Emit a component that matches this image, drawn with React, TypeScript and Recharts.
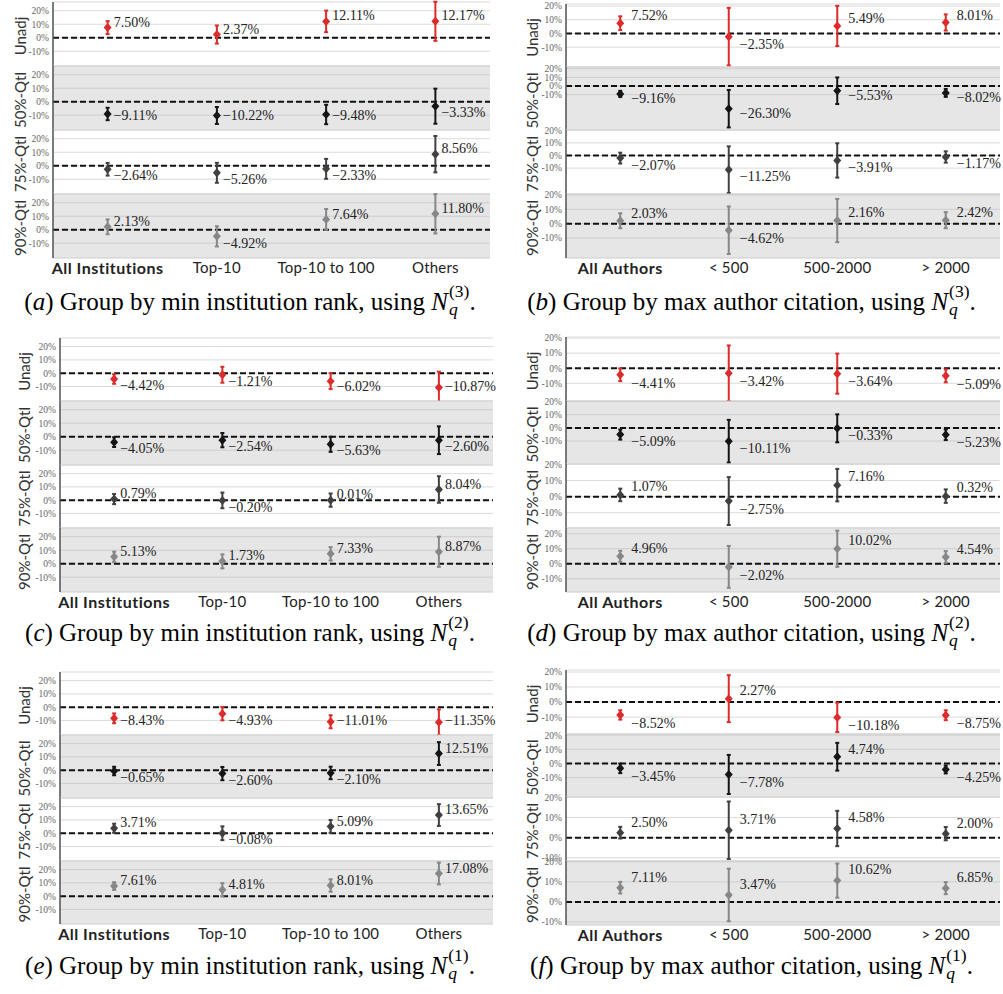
import React from 'react';
import { ComposedChart, Scatter, ErrorBar, XAxis, YAxis, CartesianGrid, ReferenceLine } from 'recharts';

const rowNames = ['Unadj', '50%-Qtl', '75%-Qtl', '90%-Qtl'];
const rowColors = ['#dc2b2b', '#151515', '#404040', '#878787'];
const instCats = ['All Institutions', 'Top-10', 'Top-10 to 100', 'Others'];
const authCats = ['All Authors', '< 500', '500-2000', '> 2000'];
const yTicks = [-10, 0, 10, 20];
const xTicks = [0, 1, 2, 3];

// values [row][category] in %
const aVals = [[7.50, 2.37, 12.11, 12.17], [-9.11, -10.22, -9.48, -3.33], [-2.64, -5.26, -2.33, 8.56], [2.13, -4.92, 7.64, 11.80]];
const aErr = [[4.8, 6.7, 8.0, 14.5], [4.6, 6.3, 7.2, 13.0], [4.7, 7.4, 7.4, 13.5], [5.5, 7.5, 7.7, 14.6]];
const bVals = [[7.52, -2.35, 5.49, 8.01], [-9.16, -26.30, -5.53, -8.02], [-2.07, -11.25, -3.91, -1.17], [2.03, -4.62, 2.16, 2.42]];
const bErr = [[5.0, 21.0, 14.7, 5.9], [3.5, 21.7, 15.4, 4.6], [4.3, 18.5, 13.6, 4.5], [5.2, 16.6, 15.1, 5.6]];
const cVals = [[-4.42, -1.21, -6.02, -10.87], [-4.05, -2.54, -5.63, -2.60], [0.79, -0.20, 0.01, 8.04], [5.13, 1.73, 7.33, 8.87]];
const cErr = [[3.6, 6.0, 6.0, 12.0], [3.6, 5.3, 5.6, 10.3], [3.8, 5.9, 5.0, 10.0], [3.8, 5.2, 5.0, 11.2]];
const dVals = [[-4.41, -3.42, -3.64, -5.09], [-5.09, -10.11, -0.33, -5.23], [1.07, -2.75, 7.16, 0.32], [4.96, -2.02, 10.02, 4.54]];
const dErr = [[4.2, 18.5, 13.3, 4.3], [3.8, 16.2, 10.6, 4.0], [3.9, 14.9, 10.1, 4.2], [3.7, 13.9, 12.0, 3.9]];
const eVals = [[-8.43, -4.93, -11.01, -11.35], [-0.65, -2.60, -2.10, 12.51], [3.71, -0.08, 5.09, 13.65], [7.61, 4.81, 8.01, 17.08]];
const eErr = [[3.7, 5.0, 4.9, 9.7], [3.2, 5.0, 4.7, 8.6], [3.4, 5.2, 4.8, 8.2], [2.9, 5.0, 4.7, 8.2]];
const fVals = [[-8.52, 2.27, -10.18, -8.75], [-3.45, -7.78, 4.74, -4.25], [2.50, 3.71, 4.58, 2.00], [7.11, 3.47, 10.62, 6.85]];
const fErr = [[3.1, 15.6, 9.8, 3.3], [3.4, 13.8, 9.8, 2.8], [2.9, 14.3, 8.8, 3.3], [2.9, 13.1, 8.5, 3.0]];

// y domains per row
const instDoms = [[-21, 26.5], [-21, 26.5], [-21, 26.5], [-21, 26.5]];
const bDoms = [[-24.5, 21.5], [-51, 22], [-30.5, 20.2], [-24, 20.7]];
const dDoms = [[-21.8, 20.7], [-27.4, 20.4], [-19.5, 20.3], [-18.7, 23.8]];
const fDoms = [[-21.2, 21.3], [-23.7, 20.8], [-11.6, 20.25], [-11.5, 20.4]];

const panels = [
  { letter: 'a', left: 0, width: 500, yW: 53, right: 10, rows: [2, 66, 130, 194, 258], cats: instCats, vals: aVals, errs: aErr, doms: instDoms, kind: 'inst', desc: 'Group by min institution rank, using ', sup: '(3)', capY: 297, lx: 19.5 },
  { letter: 'b', left: 500, width: 503, yW: 66, right: 3, rows: [4, 67, 130, 194, 258], cats: authCats, vals: bVals, errs: bErr, doms: bDoms, kind: 'auth', desc: 'Group by max author citation, using ', sup: '(3)', capY: 297, lx: 31.5 },
  { letter: 'c', left: 0, width: 500, yW: 60, right: 7, rows: [338, 401, 465, 528, 592], cats: instCats, vals: cVals, errs: cErr, doms: instDoms, kind: 'inst', desc: 'Group by min institution rank, using ', sup: '(2)', capY: 628, lx: 24 },
  { letter: 'd', left: 500, width: 503, yW: 66, right: 3, rows: [337, 401, 464, 528, 592], cats: authCats, vals: dVals, errs: dErr, doms: dDoms, kind: 'auth', desc: 'Group by max author citation, using ', sup: '(2)', capY: 628, lx: 31.5 },
  { letter: 'e', left: 0, width: 500, yW: 60, right: 7, rows: [672, 735, 798, 861, 924], cats: instCats, vals: eVals, errs: eErr, doms: instDoms, kind: 'inst', desc: 'Group by min institution rank, using ', sup: '(1)', capY: 961, lx: 24 },
  { letter: 'f', left: 500, width: 503, yW: 66, right: 3, rows: [670, 734, 797, 861, 925], cats: authCats, vals: fVals, errs: fErr, doms: fDoms, kind: 'auth', desc: 'Group by max author citation, using ', sup: '(1)', capY: 961, lx: 31.5 },
];

const fmt = (v: number) => (v < 0 ? '\u2212' : '') + Math.abs(v).toFixed(2) + '%';
const labelPos = (kind: string, v: number) =>
  kind === 'inst' ? (v > 0 ? v + 4 : Math.max(v - 5, -10)) : (v > 0 ? v + 5.3 : v - 5.5);

const SERIF = '"Liberation Serif", "Times New Roman", serif';
const SANS = 'Lato, "Open Sans", sans-serif';
const X_H = 24;
const PAD = 7;

function Diamond(props: any) {
  const { cx, cy, fill } = props;
  if (cx == null || cy == null) return null;
  return <polygon points={`${cx - 4},${cy} ${cx},${cy - 4.5} ${cx + 4},${cy} ${cx},${cy + 4.5}`} fill={fill} />;
}

function Row({ p, r }: { p: any; r: number }) {
  const top = p.rows[r];
  const h = p.rows[r + 1] - top;
  const last = r === 3;
  const color = rowColors[r];
  const dx = p.kind === 'inst' ? 6 : 11;
  const data = p.cats.map((c: string, i: number) => ({
    x: i,
    cat: c,
    v: p.vals[r][i],
    err: p.errs[r][i],
    ly: labelPos(p.kind, p.vals[r][i]),
    label: fmt(p.vals[r][i]),
  }));
  const gray = r % 2 === 1;
  const chartH = h + PAD + (last ? X_H : PAD);
  const LabelShape = (sp: any) => {
    if (sp.cx == null || sp.cy == null) return null;
    return (
      <text x={sp.cx + dx} y={sp.cy} dominantBaseline="central" fontSize={14} fontFamily={SERIF} fill="#222">
        {sp.payload.label}
      </text>
    );
  };
  const XTick = (tp: any) => {
    const bold = tp.index === 0;
    return (
      <text x={tp.x} y={tp.y + 9} textAnchor="middle" dominantBaseline="central" fontFamily={SANS}
        fontSize={bold ? 16 : 15} letterSpacing={bold ? 0.5 : 0.2} fontWeight={bold ? 700 : 400} fill="#222">
        {p.cats[tp.payload.value]}
      </text>
    );
  };
  const cy = PAD + h / 2 + 2;
  const yLabel = () => (
    <text x={p.lx} y={cy} transform={`rotate(-90 ${p.lx} ${cy})`} textAnchor="middle" dominantBaseline="central"
      fontFamily={SANS} fontSize={15} fill="#333">
      {rowNames[r]}
    </text>
  );
  return (
    <div style={{ position: 'absolute', left: p.left, top: top - PAD, width: p.width, height: chartH }}>
      <ComposedChart width={p.width} height={chartH} data={data} margin={{ top: PAD, right: p.right, bottom: last ? 0 : PAD, left: 0 }}>
        <CartesianGrid vertical={false} stroke={gray ? '#cdcdcd' : '#dadada'} strokeWidth={1} fill={gray ? '#e6e6e6' : 'none'} fillOpacity={1} />
        <XAxis dataKey="x" type="number" domain={[-0.5, 3.5]} ticks={xTicks} interval={0} hide={!last} height={X_H}
          axisLine={false} tickLine={false} tickSize={0} tickMargin={0} tick={XTick} />
        <YAxis type="number" domain={p.doms[r]} ticks={yTicks} interval={0} allowDataOverflow width={p.yW}
          tickLine={false} tickSize={3} tickMargin={1} axisLine={{ stroke: '#505050', strokeWidth: 1.5 }}
          tick={{ fontSize: 9.5, fill: '#666', fontFamily: SERIF }} tickFormatter={(v: number) => `${v}%`} label={yLabel} />
        <YAxis yAxisId="lab" orientation="right" type="number" domain={p.doms[r]} width={0} hide />
        <ReferenceLine y={0} stroke="#111" strokeWidth={2} strokeDasharray="6 3" />
        <Scatter dataKey="v" fill={color} shape={<Diamond />} isAnimationActive={false}>
          <ErrorBar dataKey="err" direction="y" width={2} strokeWidth={2} stroke={color} isAnimationActive={false} />
        </Scatter>
        <Scatter yAxisId="lab" dataKey="ly" fill="#222" shape={LabelShape} isAnimationActive={false} />
      </ComposedChart>
    </div>
  );
}

function Caption({ p }: { p: any }) {
  return (
    <div style={{ position: 'absolute', left: p.left, top: p.capY - 15, width: p.width, textAlign: 'center', fontFamily: SERIF, fontSize: 25, lineHeight: '30px', color: '#000', whiteSpace: 'nowrap' }}>
      (<i>{p.letter}</i>) {p.desc}
      <i>N</i>
      <span style={{ display: 'inline-block', verticalAlign: '-0.32em', lineHeight: 1.05, fontSize: '0.7em', textAlign: 'left', marginLeft: 1 }}>
        <span style={{ display: 'block' }}>{p.sup}</span>
        <span style={{ display: 'block', fontStyle: 'italic' }}>q</span>
      </span>
      .
    </div>
  );
}

export default function App() {
  return (
    <div style={{ position: 'absolute', left: 0, top: 0, width: 1003, height: 994, background: '#fff', overflow: 'hidden' }}>
      {panels.map((p) => (
        <React.Fragment key={p.letter}>
          {[0, 1, 2, 3].map((r) => (
            <Row key={r} p={p} r={r} />
          ))}
          <Caption p={p} />
        </React.Fragment>
      ))}
    </div>
  );
}
